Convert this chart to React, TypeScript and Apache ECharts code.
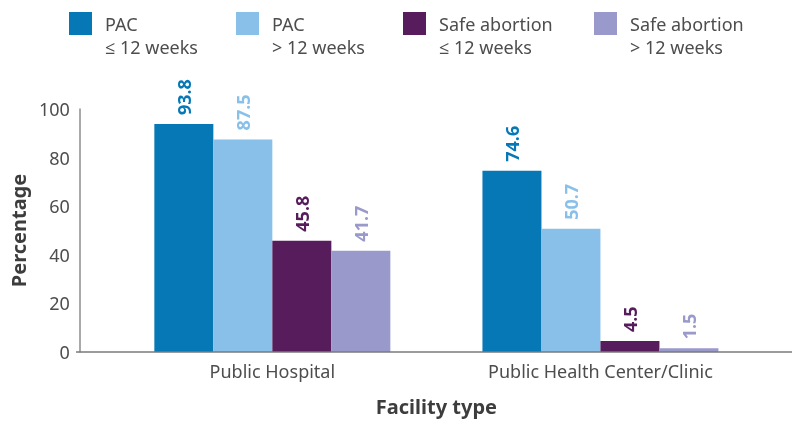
import React, { useEffect, useRef } from "react";
import * as echarts from "echarts";

const categories = ["Public Hospital", "Public Health Center/Clinic"];
const seriesNames = ["PAC\n≤ 12 weeks", "PAC\n> 12 weeks", "Safe abortion\n≤ 12 weeks", "Safe abortion\n> 12 weeks"];
const pacUnder12 = [93.8, 74.6];
const pacOver12 = [87.5, 50.7];
const safeUnder12 = [45.8, 4.5];
const safeOver12 = [41.7, 1.5];
const yTicks = { min: 0, max: 100, interval: 20 };

const colors = ["#0778b6", "#88c0ea", "#561c5c", "#9a99cb"];
const legendLefts = [69, 236, 403, 594];
const FONT = "'Noto Sans', 'Open Sans', sans-serif";
const TEXT = "#4d4d4d";

export default function App() {
  const ref = useRef<HTMLDivElement>(null);
  useEffect(() => {
    if (!ref.current) return;
    const chart = echarts.init(ref.current, null, { renderer: "svg" });
    const values = [pacUnder12, pacOver12, safeUnder12, safeOver12];
    const iconPath = "path://M0,0H23V23H0Z M31,46L31,45.99";
    chart.setOption({
      animation: false,
      textStyle: { fontFamily: FONT },
      legend: seriesNames.map((n, i) => ({
        left: legendLefts[i],
        top: 12,
        padding: 0,
        itemGap: 0,
        itemWidth: 31,
        itemHeight: 46,
        icon: iconPath,
        selectedMode: false,
        data: [n],
        textStyle: { fontSize: 18, lineHeight: 23, color: TEXT, fontFamily: FONT },
      })),
      grid: { left: 104.5, right: 27.5, top: 109, bottom: 69, containLabel: false },
      xAxis: {
        type: "category",
        data: categories,
        axisLine: { show: false },
        axisTick: { show: false },
        axisLabel: { fontSize: 18, color: TEXT, margin: 10, fontFamily: FONT },
        name: "Facility type",
        nameLocation: "middle",
        nameGap: 44,
        nameTextStyle: { fontSize: 20, fontWeight: "bold", color: "#3d3d3d", fontFamily: FONT },
      },
      yAxis: {
        type: "value",
        min: yTicks.min,
        max: yTicks.max,
        interval: yTicks.interval,
        offset: 28.5,
        axisLine: { show: true, lineStyle: { color: "#8c8c8c", width: 1.5 } },
        axisTick: { show: false },
        splitLine: { show: false },
        axisLabel: { fontSize: 18, color: TEXT, margin: 10, fontFamily: FONT },
        name: "Percentage",
        nameLocation: "middle",
        nameGap: 50,
        nameTextStyle: { fontSize: 20, fontWeight: "bold", color: "#3d3d3d", fontFamily: FONT },
      },
      graphic: [
        {
          type: "line",
          shape: { x1: 76, y1: 352, x2: 792, y2: 352 },
          style: { stroke: "#7a7a7a", lineWidth: 1.5 },
          z: 10,
        },
      ],
      series: values.map((v, i) => ({
        name: seriesNames[i],
        type: "bar",
        data: v,
        barWidth: 59,
        barGap: "0%",
        itemStyle: { color: colors[i] },
        label: {
          show: true,
          position: "top",
          rotate: 90,
          align: "left",
          verticalAlign: "middle",
          distance: 9,
          fontSize: 18,
          fontWeight: "bold",
          color: colors[i],
          fontFamily: FONT,
          formatter: (p: any) => p.value.toFixed(1),
        },
      })),
    });
    return () => chart.dispose();
  }, []);
  return <div ref={ref} style={{ position: "fixed", left: 0, top: 0, width: 792, height: 421 }} />;
}
